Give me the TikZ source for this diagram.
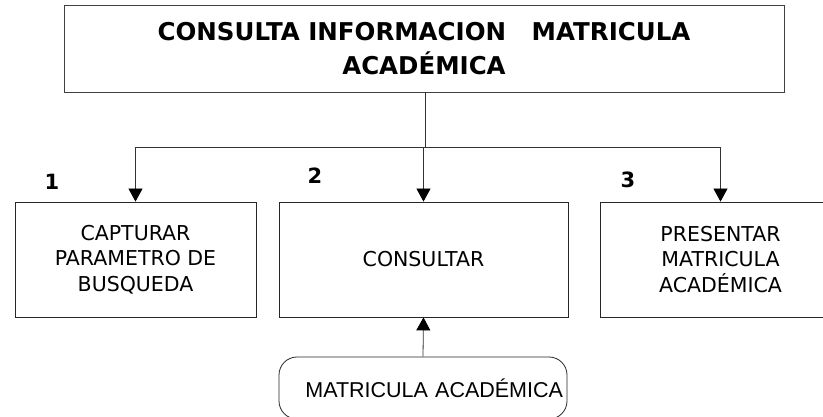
\documentclass[tikz,border=0pt]{standalone}
\usepackage{fontspec}
\usepackage{tikz}
\usetikzlibrary{positioning,arrows.meta}
\newfontfamily\tahomafont{DejaVu Sans}
\newfontfamily\arialfont{Liberation Sans}

\begin{document}
\begin{tikzpicture}[x=1pt,y=-1pt,
  every node/.style={font=\tahomafont},
  titlebox/.style={draw=black!75,line width=0.9pt,minimum width=720pt,
                   minimum height=87pt,inner sep=0pt,align=center,
                   font=\tahomafont\bfseries\fontsize{24.5}{34}\selectfont},
  task/.style={draw=black!85,line width=0.8pt,minimum height=115pt,
               inner sep=0pt,align=center,
               font=\tahomafont\fontsize{20.5}{25.5}\selectfont},
  num/.style={font=\tahomafont\bfseries\fontsize{21}{21}\selectfont},
  store/.style={draw=black!85,line width=0.8pt,rounded corners=18pt,
                minimum height=62pt,inner xsep=4pt,inner ysep=0pt,
                text width=280pt,align=right,
                font=\arialfont\fontsize{21.5}{24}\selectfont},
  link/.style={draw=black!80,line width=0.8pt},
  arr/.style={link,-{Triangle[length=13pt,width=14pt,color=black]}}
]
\useasboundingbox (0,0) rectangle (823,417);

\node[titlebox] (title) at (424,48.5)
  {CONSULTA INFORMACION~~~MATRICULA\\ACADÉMICA};

\node[task,minimum width=241pt] (capturar)  at (135.5,259.5) {CAPTURAR\\PARAMETRO DE\\BUSQUEDA};
\node[task,minimum width=289pt] (consultar) at (423.5,259.5) {CONSULTAR};
\node[task,minimum width=241pt] (presentar) at (720.5,259.5) {PRESENTAR\\MATRICULA\\ACADÉMICA};

\node[num] (n1) at (52,182)  {1};
\node[num] (n2) at (315,176) {2};
\node[num] (n3) at (628,180) {3};

\node[store] (matricula) at (423,388) {MATRICULA ACADÉMICA};

% reparto desde el titulo
\coordinate (hub) at (425,147);
\draw[link] (title.south -| hub) -- (hub);
\draw[arr] (hub) -| (capturar.north);
\draw[arr] (hub) -- (hub -| consultar.north) -- (consultar.north);
\draw[arr] (hub) -| (presentar.north);

\draw[arr] (matricula.north) -- (consultar.south);
\end{tikzpicture}
\end{document}
